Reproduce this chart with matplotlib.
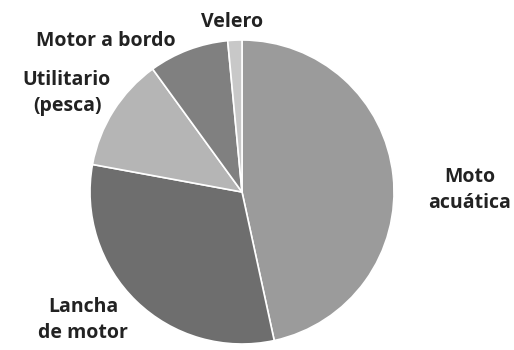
import matplotlib
matplotlib.use("Agg")
import matplotlib.pyplot as plt

# Share of accidents by boat type (percent)
categories = ["Moto acuática", "Lancha de motor", "Utilitario (pesca)", "Motor a bordo", "Velero"]
shares = [46.6, 31.3, 12.1, 8.5, 1.5]
colors = ["#9b9b9b", "#6e6e6e", "#b5b5b5", "#808080", "#c8c8c8"]
label_texts = ["Moto\nacuática", "Lancha\nde motor", "Utilitario\n(pesca)", "Motor a bordo", "Velero"]

W, H = 514, 350
fig = plt.figure(figsize=(W / 100, H / 100), dpi=100)
ax = fig.add_axes([0, 0, 1, 1])

cx, cy, r = 242, H - 192, 152
ax.pie(shares, colors=colors, startangle=90, counterclock=False,
       center=(cx, cy), radius=r, frame=True,
       wedgeprops=dict(edgecolor="white", linewidth=1.2))
ax.set_xlim(0, W)
ax.set_ylim(0, H)
ax.set_aspect("equal")
ax.axis("off")

# label anchor points (pixel coordinates from the top-left)
label_pos = [(470, 190), (83, 320), (67, 93), (106, 41), (232, 22)]
for txt, (x, y) in zip(label_texts, label_pos):
    ax.text(x, H - y, txt, ha="center", va="center", fontsize=14,
            fontweight="bold", family="Open Sans", color="#222222",
            linespacing=1.45)

fig.savefig("out.png", dpi=100)
